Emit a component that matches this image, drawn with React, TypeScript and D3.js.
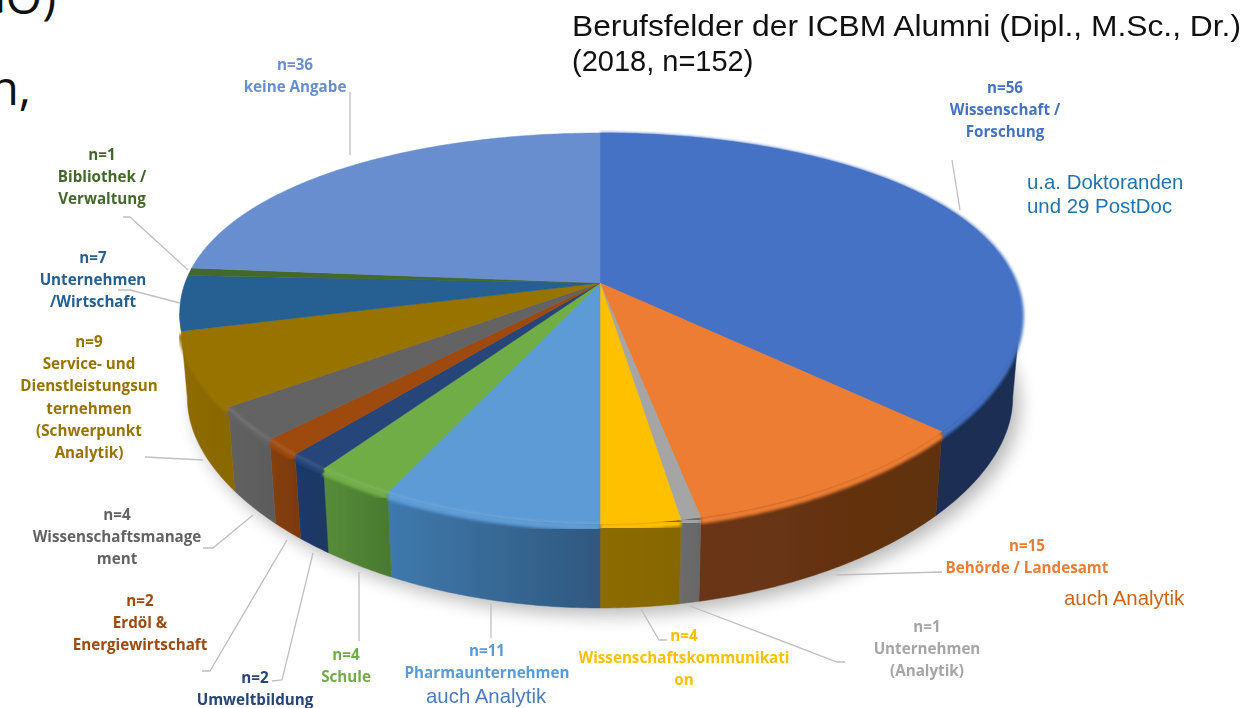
import React from "react";
import * as d3 from "d3";

// ---------- data ----------
const categories = [
  "Wissenschaft / Forschung", "Behörde / Landesamt", "Unternehmen (Analytik)", "Wissenschaftskommunikation",
  "Pharmaunternehmen", "Schule", "Umweltbildung", "Erdöl & Energiewirtschaft", "Wissenschaftsmanagement",
  "Service- und Dienstleistungsunternehmen (Schwerpunkt Analytik)", "Unternehmen /Wirtschaft",
  "Bibliothek / Verwaltung", "keine Angabe",
];
const values = [56, 15, 1, 4, 11, 4, 2, 2, 4, 9, 7, 1, 36];
const labelLines = [
  ["Wissenschaft /", "Forschung"],
  ["Behörde / Landesamt"],
  ["Unternehmen", "(Analytik)"],
  ["Wissenschaftskommunikati", "on"],
  ["Pharmaunternehmen"],
  ["Schule"],
  ["Umweltbildung"],
  ["Erdöl &", "Energiewirtschaft"],
  ["Wissenschaftsmanage", "ment"],
  ["Service- und", "Dienstleistungsun", "ternehmen", "(Schwerpunkt", "Analytik)"],
  ["Unternehmen", "/Wirtschaft"],
  ["Bibliothek /", "Verwaltung"],
  ["keine Angabe"],
];
const titleLines = ["Berufsfelder der ICBM Alumni (Dipl., M.Sc., Dr.)", "(2018, n=152)"];

// ---------- styles & layout ----------
const topColors = ["#4472C4", "#ED7D31", "#A5A5A5", "#FFC000", "#5B9BD5", "#70AD47", "#264478", "#9E480E", "#636363", "#997300", "#255E91", "#43682B", "#698ED0"];
const wallLeft = ["#1a2f55", "#6b3613", "#6c6c6c", "#8c6c00", "#3f79ad", "#568c3a", "#1a3a6c", "#85400f", "#626262", "#8f6c00", "#1d4a75", "#33511f", "#4a6a9f"];
const wallRight = ["#1a2e52", "#5f3010", "#666666", "#866600", "#30587f", "#4a7a30", "#1a3763", "#7d3b0b", "#5c5c5c", "#8a6800", "#1d4a75", "#33511f", "#4a6a9f"];
const highlighted = [4, 5, 6, 7, 8];
const labelPos: [number, number][] = [
  [1005, 93], [1027, 551], [927, 632], [684, 641], [487, 656], [346, 660], [255, 683],
  [140, 606], [117, 520], [89, 347], [93, 263], [102, 160], [295, 70],
];
const leaders: [number, number][][] = [
  [[952, 160], [960, 210]],
  [[836, 575], [942, 572]],
  [[690, 606], [837, 662], [845, 662]],
  [[641, 609], [659, 640], [667, 640]],
  [[491, 638], [491, 604]],
  [[359, 641], [359, 572]],
  [[272, 681], [282, 680], [313, 553]],
  [[202, 671], [210, 671], [287, 540]],
  [[203, 548], [213, 548], [253, 515]],
  [[145, 457], [203, 460]],
  [[118, 290], [130, 290], [180, 303]],
  [[123, 217], [130, 217], [188, 270]],
  [[350, 92], [350, 155]],
];

const cx = 600, apexY = 283;
const perspY = 0.2327, ky = 184.9, perspX = 0.158, kx = 415;
const depth = 84, baseScale = 0.982;
const lastWallSlice = 9;           // front-most slice on the left
const silhouette = Math.acos(-perspX); // angle of the widest point of the rim
const wallStartAngle = silhouette;
const wallEndAngle = 2 * Math.PI - silhouette;

const project = (a: number): [number, number] => {
  const u = Math.sin(a), v = -Math.cos(a);
  return [cx + (kx * u) / (1 - perspX * v), apexY + (ky * v) / (1 - perspY * v)];
};
const lower = ([x, y]: [number, number]): [number, number] => [cx + (x - cx) * baseScale, y + depth];

const arcs = d3.pie<number>().sort(null).startAngle(0).endAngle(2 * Math.PI)(values);
const lineGen = d3.line<[number, number]>();
const rim = (a0: number, a1: number) => {
  const n = Math.max(4, Math.ceil((a1 - a0) / 0.01));
  return d3.range(n + 1).map((i) => project(a0 + ((a1 - a0) * i) / n));
};

export default function App() {
  const slices = arcs.map((d, i) => {
    const edge = rim(d.startAngle, d.endAngle);
    const wallEdge = rim(
      i === 0 ? wallStartAngle : d.startAngle,
      i === lastWallSlice ? wallEndAngle : d.endAngle
    );
    const wall = [...wallEdge, ...wallEdge.map(lower).reverse()];
    const face: [number, number][] = [[cx, apexY], ...edge];
    const frontEdge = edge.filter((p) => p[1] > apexY + 110);
    return { i, edge, wall, face, frontEdge, x0: d3.min(edge, (p) => p[0])!, x1: d3.max(edge, (p) => p[0])! };
  });
  const outline = rim(0, 2 * Math.PI);
  const wallSlices = slices.filter((s) => s.i <= lastWallSlice);
  return (
    <svg width={1250} height={708} style={{ position: "absolute", left: 0, top: 0, background: "#fff" }}>
      <defs>
        <filter id="shadow" x="-10%" y="-10%" width="120%" height="120%"><feGaussianBlur stdDeviation="9" /></filter>
        <filter id="soft" x="-5%" y="-5%" width="110%" height="110%"><feGaussianBlur stdDeviation="0.6" /></filter>
        <filter id="bevel" x="-5%" y="-5%" width="110%" height="110%"><feGaussianBlur stdDeviation="1.5" /></filter>
        <filter id="txt" x="-10%" y="-20%" width="120%" height="140%"><feGaussianBlur stdDeviation="0.4" /></filter>
        {slices.map((s) => (
          <linearGradient key={s.i} id={`wall${s.i}`} gradientUnits="userSpaceOnUse" x1={s.x0} x2={s.x1} y1={0} y2={0}>
            <stop offset="0" stopColor={wallLeft[s.i]} />
            <stop offset="1" stopColor={wallRight[s.i]} />
          </linearGradient>
        ))}
      </defs>

      {/* cropped slide text behind the chart */}
      <g fontFamily="'Open Sans'" fontSize={47} fill="#111">
        <text x={56} y={14} textAnchor="end">GO)</text>
        <text x={31} y={105} textAnchor="end">n,</text>
      </g>

      <path d={lineGen(outline.map(lower))! + "Z"} transform="translate(7,7)" fill="#000" opacity={0.28} filter="url(#shadow)" />

      <g filter="url(#soft)">
        {wallSlices.map((s) => (
          <path key={s.i} d={lineGen(s.wall)! + "Z"} fill={`url(#wall${s.i})`} stroke={`url(#wall${s.i})`} strokeWidth={0.5} />
        ))}
        {wallSlices.map((s) => (
          <path key={s.i} d={lineGen(s.edge)!} transform="translate(0,3)" fill="none" stroke={topColors[s.i]} strokeWidth={7} filter="url(#bevel)" />
        ))}
        {slices.map((s) => (
          <path key={s.i} d={lineGen(s.face)! + "Z"} fill={topColors[s.i]} stroke={topColors[s.i]} strokeWidth={0.5} />
        ))}
      </g>
      {slices.filter((s) => highlighted.includes(s.i)).map((s) => (
        <path key={s.i} d={lineGen(s.frontEdge)!} fill="none" stroke="#fff" strokeOpacity={0.16} strokeWidth={2} filter="url(#bevel)" />
      ))}

      <g fill="none" stroke="#bfbfbf" strokeWidth={1.3}>
        {leaders.map((l, i) => <path key={i} d={lineGen(l)!} />)}
      </g>

      <g fontFamily="'Open Sans'" fontWeight={700} fontSize={15.2} textAnchor="middle" filter="url(#txt)">
        {categories.map((c, i) => (
          <text key={c} x={labelPos[i][0]} y={labelPos[i][1]} fill={topColors[i]}>
            <tspan x={labelPos[i][0]}>{`n=${values[i]}`}</tspan>
            {labelLines[i].map((ln, j) => <tspan key={j} x={labelPos[i][0]} dy={22.2}>{ln}</tspan>)}
          </text>
        ))}
      </g>

      <g fontFamily="'Liberation Sans'" fontSize={20.4}>
        <text x={1027} y={189} fill="#1f74b0">u.a. Doktoranden</text>
        <text x={1027} y={213} fill="#1f74b0">und 29 PostDoc</text>
        <text x={1064} y={605} fill="#cf6416">auch Analytik</text>
        <text x={426} y={703} fill="#4a7cc4">auch Analytik</text>
      </g>
      <g fontFamily="'Liberation Sans'" fill="#111">
        <text x={572} y={36} fontSize={29.5} textLength={669} lengthAdjust="spacingAndGlyphs">{titleLines[0]}</text>
        <text x={572} y={71} fontSize={29}>{titleLines[1]}</text>
      </g>
    </svg>
  );
}
